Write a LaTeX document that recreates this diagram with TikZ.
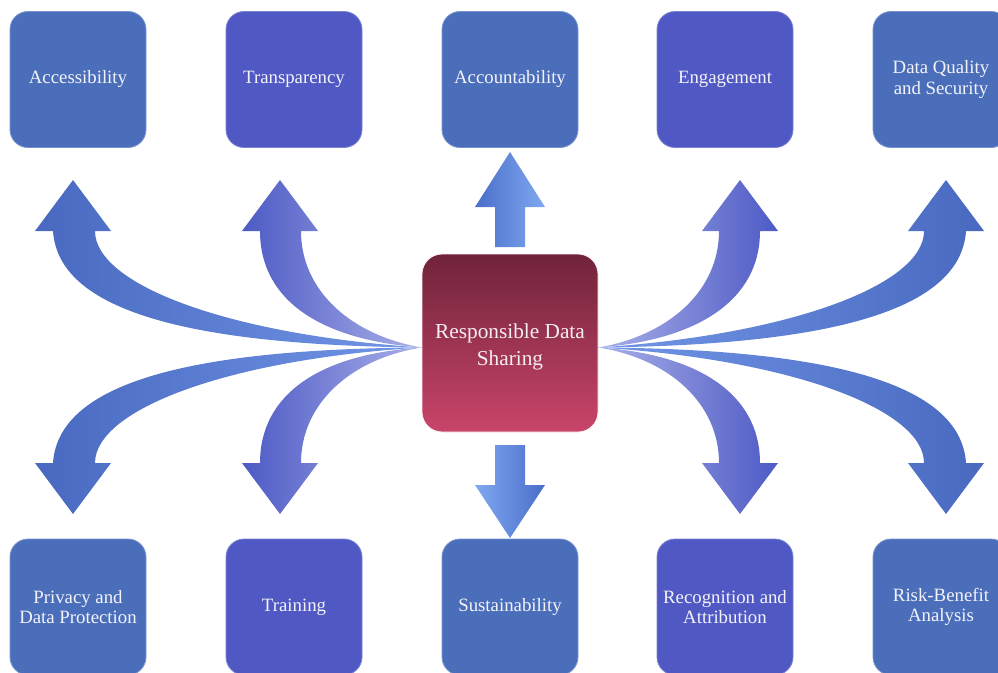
\documentclass[tikz,border=0pt]{standalone}
\usepackage{fontspec}
\setmainfont{Liberation Serif}
\usetikzlibrary{calc}

% box fills
\definecolor{steelbox}{HTML}{4B6EBB}
\definecolor{violetbox}{HTML}{5058C3}
\definecolor{hubtop}{HTML}{70233A}
\definecolor{hubbot}{HTML}{C9456A}
\definecolor{labeltext}{HTML}{F3F3F7}
% arrow shading ends
\definecolor{steeldark}{HTML}{4869BF}
\definecolor{steellight}{HTML}{7296E8}
\definecolor{violetdark}{HTML}{4D5AC5}
\definecolor{violetlight}{HTML}{AAB0E8}
\definecolor{skydark}{HTML}{4A6ECA}
\definecolor{skylight}{HTML}{80A8F0}

\begin{document}
\begin{tikzpicture}[x=1pt,y=-1pt,
  card/.style={rounded corners=18pt, minimum width=136pt, minimum height=136pt,
    inner sep=0pt, align=center, text=labeltext, line width=0.8pt,
    font=\fontsize{18.8}{20.5}\selectfont},
  steelcard/.style={card, fill=steelbox, draw=steelbox!75!white},
  violetcard/.style={card, fill=violetbox, draw=violetbox!75!white},
  hubcard/.style={rounded corners=20pt, minimum width=176pt, minimum height=178pt,
    inner sep=0pt, top color=hubtop, bottom color=hubbot,
    draw=white!80!pink, line width=0.8pt},
  hubtext/.style={inner sep=0pt, align=center, text=labeltext!90!pink,
    font=\fontsize{21.3}{27}\selectfont},
  toleft/.style={left color=#1dark, right color=#1light},
  toright/.style={left color=#1light, right color=#1dark}
]
\useasboundingbox (0,0) rectangle (998,672);

% central topic
\node[hubcard] (hub) at (510,343) {};
\node[hubtext] (hublabel) at ($(hub.center)+(0,4)$) {Responsible Data\\Sharing};
\coordinate (L) at ([yshift=-4.5pt]hub.west);
\coordinate (R) at ([yshift=-4.5pt]hub.east);

% top row
\node[steelcard]  (acc) at (78,79.5)  {Accessibility};
\node[violetcard] (tra) at (294,79.5) {Transparency};
\node[steelcard]  (aco) at (510,79.5) {Accountability};
\node[violetcard] (eng) at (725,79.5) {Engagement};
\node[steelcard]  (dqs) at (941,79.5) {Data Quality\\and Security};

% bottom row
\node[steelcard]  (pri) at (78,607)  {Privacy and\\Data Protection};
\node[violetcard] (trn) at (294,607) {Training};
\node[steelcard]  (sus) at (510,607) {Sustainability};
\node[violetcard] (rec) at (725,607) {Recognition and\\Attribution};
\node[steelcard]  (rba) at (941,607) {Risk-Benefit\\Analysis};

% straight block arrows
\path[left color=skydark, right color=skylight]
  (495,247) -- (495,207) -- (475,207) -- (510,152) -- (545,207) -- (525,207) -- (525,247) -- cycle;
\path[left color=skylight, right color=skydark]
  (495,445) -- (495,485) -- (475,485) -- (510,538) -- (545,485) -- (525,485) -- (525,445) -- cycle;

% curved block arrows, left side
\path[toleft=steel]
  (L) .. controls (170,345) and (58,305) .. (53,231) -- (35,231) -- (73,180) -- (111,231)
  -- (95,231) .. controls (95,285) and (230,335) .. (L) -- cycle;
\path[toleft=violet]
  (L) .. controls (320,340) and (260,300) .. (260,231) -- (242,231) -- (280,180) -- (318,231)
  -- (301,231) .. controls (301,290) and (350,335) .. (L) -- cycle;
\path[toleft=steel]
  (L) .. controls (170,349) and (58,389) .. (53,463) -- (35,463) -- (73,514) -- (111,463)
  -- (95,463) .. controls (95,409) and (230,359) .. (L) -- cycle;
\path[toleft=violet]
  (L) .. controls (320,354) and (260,394) .. (260,463) -- (242,463) -- (280,514) -- (318,463)
  -- (301,463) .. controls (301,404) and (350,359) .. (L) -- cycle;

% curved block arrows, right side
\path[toright=violet]
  (R) .. controls (698,340) and (760,300) .. (760,231) -- (778,231) -- (740,180) -- (702,231)
  -- (719,231) .. controls (719,290) and (670,335) .. (R) -- cycle;
\path[toright=steel]
  (R) .. controls (848,345) and (961,305) .. (966,231) -- (984,231) -- (946,180) -- (908,231)
  -- (924,231) .. controls (924,285) and (789,335) .. (R) -- cycle;
\path[toright=violet]
  (R) .. controls (698,354) and (760,394) .. (760,463) -- (778,463) -- (740,514) -- (702,463)
  -- (719,463) .. controls (719,404) and (670,359) .. (R) -- cycle;
\path[toright=steel]
  (R) .. controls (848,349) and (961,389) .. (966,463) -- (984,463) -- (946,514) -- (908,463)
  -- (924,463) .. controls (924,409) and (789,359) .. (R) -- cycle;
\end{tikzpicture}
\end{document}
